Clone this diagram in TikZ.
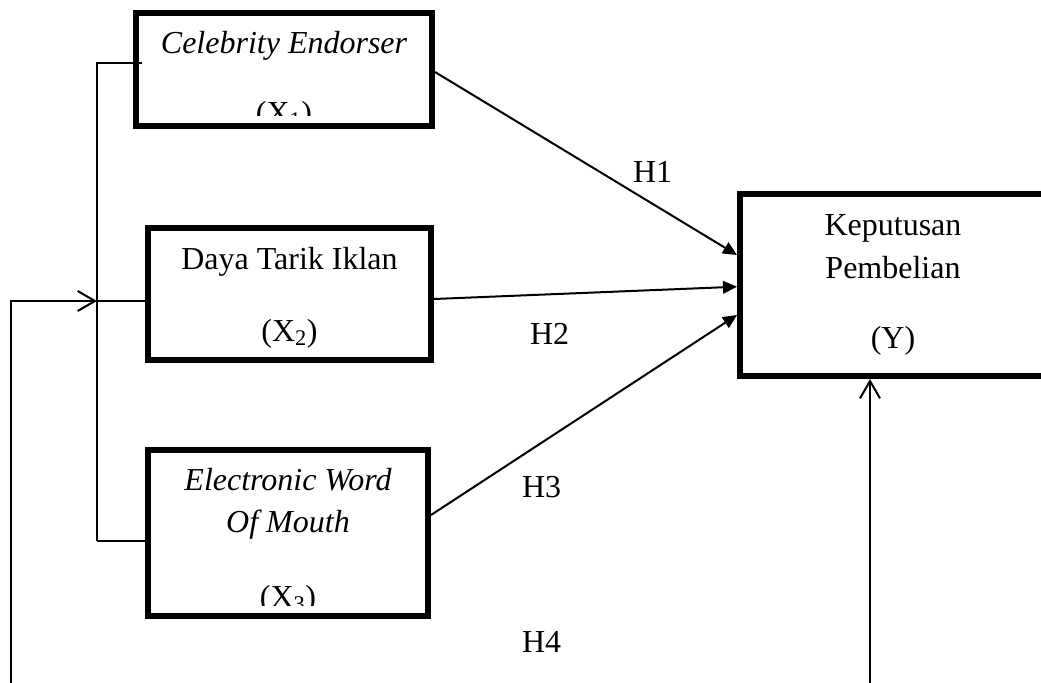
\documentclass[tikz,border=0pt]{standalone}
\usepackage{fontspec}
\setmainfont{Liberation Serif}
\usetikzlibrary{arrows.meta,calc}
\begin{document}
\begin{tikzpicture}[x=0.75pt,y=-0.75pt,
  box/.style={draw,line width=4.5pt,rectangle,inner sep=0pt,outer sep=2.25pt},
  txt/.style={font=\fontsize{24pt}{31.5pt}\selectfont,inner sep=0pt,outer sep=0pt,anchor=base},
  conn/.style={line width=1.5pt},
  filled/.style={conn,-{Triangle[length=10.5pt,width=9.5pt]}},
  openarr/.style={conn,-{Straight Barb[length=13pt,width=15pt,line width=1.5pt]}}]
\useasboundingbox (0,0) rectangle (1041,682);
% boxes
\node[box,minimum width=222pt,minimum height=84.75pt] (x1) at (284,69.5) {};
\node[box,minimum width=212.25pt,minimum height=99pt] (x2) at (289.5,294) {};
\node[box,minimum width=210pt,minimum height=124.5pt] (x3) at (288,533) {};
\node[box,minimum width=229.5pt,minimum height=136.5pt] (y) at (893,285) {};
% texts
\node[txt] (t1a) at (284,53) {\itshape Celebrity Endorser};
\begin{scope}
\clip (130,0) rectangle (440,115);
\node[txt] (t1b) at (284,123) {(X\textsubscript{1})};
\end{scope}
\node[txt] (t2a) at (289.5,269) {Daya Tarik Iklan};
\node[txt] (t2b) at (289.5,341) {(X\textsubscript{2})};
\node[txt] (t3a) at (288,490) {\itshape Electronic Word};
\node[txt] (t3b) at (288,532) {\itshape Of Mouth};
\begin{scope}
\clip (130,440) rectangle (440,605);
\node[txt] (t3c) at (288,607) {(X\textsubscript{3})};
\end{scope}
\node[txt] (tya) at (893,235) {Keputusan};
\node[txt] (tyb) at (893,278) {Pembelian};
\node[txt] (tyc) at (893,348) {(Y)};
% hypothesis labels
\node[txt,anchor=base west] (h1) at (633,182) {H1};
\node[txt,anchor=base west] (h2) at (530,344) {H2};
\node[txt,anchor=base west] (h3) at (522,497) {H3};
\node[txt,anchor=base west] (h4) at (522,652) {H4};
% arrows to Y
\draw[filled] ($(x1.east)+(0,2.5)$) -- ($(y.west)+(0,-30)$);
\draw[filled] ($(x2.east)+(0,5)$) -- ($(y.west)+(0,1.7)$);
\draw[filled] ($(x3.east)+(0,-18)$) -- ($(y.west)+(0,30)$);
% bracket
\coordinate (jt) at (97,63);
\coordinate (tt) at (142,63);
\coordinate (jm) at (97,301);
\coordinate (jb) at (97,541);
\draw[conn] (tt) -- (jt) -- (jb);
\draw[conn] (jm) -- (jm -| x2.west);
\draw[conn] (jb) -- (jb -| x3.west);
% feedback
\coordinate (lb) at (11,685);
\coordinate (lc) at (11,301);
\draw[openarr] (lb) -- (lc) -- (jm);
\coordinate (bb) at (870,685);
\draw[openarr] (bb) -- (bb |- y.south);
\end{tikzpicture}
\end{document}
